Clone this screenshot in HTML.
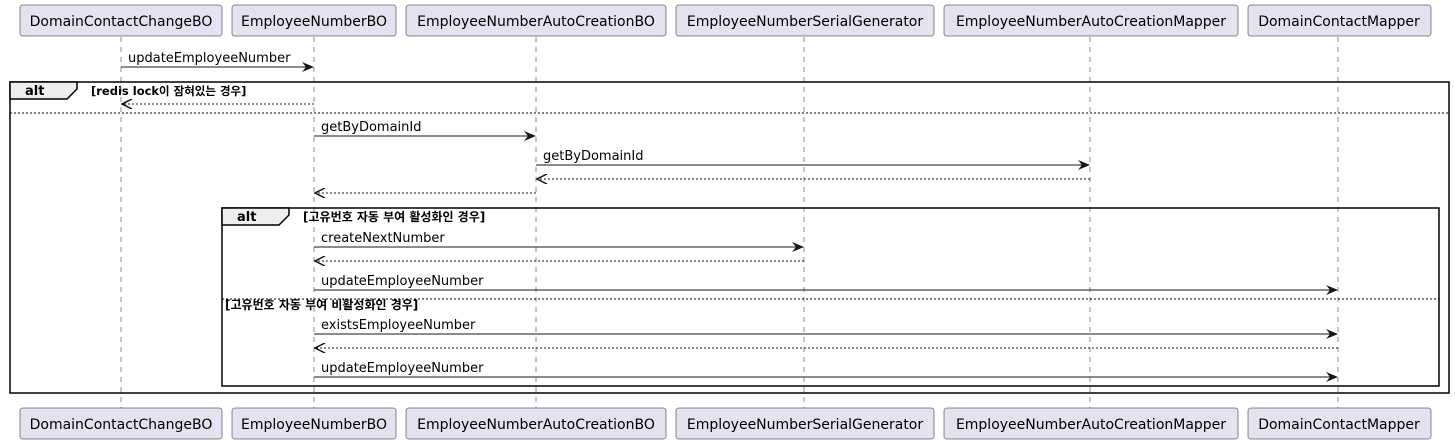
<!DOCTYPE html>
<html><head><meta charset="utf-8"><style>html,body{margin:0;padding:0;background:#fff}svg{display:block}</style></head><body>
<svg width="1455" height="443" xmlns="http://www.w3.org/2000/svg" font-family="'DejaVu Sans','Noto Sans CJK KR',sans-serif">
<defs>
<marker id="a" viewBox="0 0 12 10" refX="11" refY="5" markerWidth="12" markerHeight="10" markerUnits="userSpaceOnUse" orient="auto"><path d="M0,0 L12,5 L0,10 L4,5 Z" fill="#181818"/></marker>
<marker id="r" viewBox="0 0 12 10" refX="11" refY="5" markerWidth="12" markerHeight="10" markerUnits="userSpaceOnUse" orient="auto"><path d="M1,0 L11,5 L1,10" fill="none" stroke="#181818" stroke-width="1.5"/></marker>
</defs>
<g stroke="#181818" stroke-width="0.5" stroke-dasharray="5,5">
<line x1="121" y1="37" x2="121" y2="408"/><line x1="314" y1="37" x2="314" y2="408"/><line x1="536" y1="37" x2="536" y2="408"/><line x1="804" y1="37" x2="804" y2="408"/><line x1="1090" y1="37" x2="1090" y2="408"/><line x1="1338" y1="37" x2="1338" y2="408"/>
</g>
<g fill="#E2E2F0" stroke="#181818" stroke-width="0.5">
<rect x="20" y="5" width="202" height="31" rx="2.5"/><rect x="232" y="5" width="164" height="31" rx="2.5"/><rect x="406" y="5" width="260" height="31" rx="2.5"/><rect x="676" y="5" width="258" height="31" rx="2.5"/><rect x="944" y="5" width="294" height="31" rx="2.5"/><rect x="1248" y="5" width="183" height="31" rx="2.5"/>
<rect x="20" y="408" width="202" height="31" rx="2.5"/><rect x="232" y="408" width="164" height="31" rx="2.5"/><rect x="406" y="408" width="260" height="31" rx="2.5"/><rect x="676" y="408" width="258" height="31" rx="2.5"/><rect x="944" y="408" width="294" height="31" rx="2.5"/><rect x="1248" y="408" width="183" height="31" rx="2.5"/>
</g>
<g font-size="14" fill="#000" text-anchor="middle">
<text x="121" y="26">DomainContactChangeBO</text><text x="314" y="26">EmployeeNumberBO</text><text x="536" y="26">EmployeeNumberAutoCreationBO</text><text x="805" y="26">EmployeeNumberSerialGenerator</text><text x="1091" y="26">EmployeeNumberAutoCreationMapper</text><text x="1339" y="26">DomainContactMapper</text>
<text x="121" y="429">DomainContactChangeBO</text><text x="314" y="429">EmployeeNumberBO</text><text x="536" y="429">EmployeeNumberAutoCreationBO</text><text x="805" y="429">EmployeeNumberSerialGenerator</text><text x="1091" y="429">EmployeeNumberAutoCreationMapper</text><text x="1339" y="429">DomainContactMapper</text>
</g>
<rect x="10" y="82" width="1439" height="311" fill="none" stroke="#000" stroke-width="1.5"/>
<path d="M10,82 L77,82 L77,89 L67,99 L10,99 Z" fill="#EEEEEE" stroke="#000" stroke-width="1.5"/>
<text x="25" y="95" font-size="13" font-weight="bold">alt</text>
<text x="91" y="95" font-size="11.5" font-weight="bold">[redis lock이 잠혀있는 경우]</text>
<line x1="10" y1="113" x2="1449" y2="113" stroke="#000" stroke-width="1" stroke-dasharray="2,2"/>
<rect x="222" y="208" width="1217" height="178" fill="none" stroke="#000" stroke-width="1.5"/>
<path d="M222,208 L289,208 L289,215 L279,225 L222,225 Z" fill="#EEEEEE" stroke="#000" stroke-width="1.5"/>
<text x="237" y="221" font-size="13" font-weight="bold">alt</text>
<text x="303" y="221" font-size="12" font-weight="bold">[고유번호 자동 부여 활성화인 경우]</text>
<line x1="222" y1="299" x2="1439" y2="299" stroke="#000" stroke-width="1" stroke-dasharray="2,2"/>
<text x="225" y="309" font-size="12" font-weight="bold">[고유번호 자동 부여 비활성화인 경우]</text>
<g stroke="#181818" stroke-width="1" fill="none">
<line x1="121" y1="67" x2="313" y2="67" marker-end="url(#a)"/>
<line x1="314" y1="104" x2="122" y2="104" stroke-dasharray="2,2" marker-end="url(#r)"/>
<line x1="314" y1="136" x2="535" y2="136" marker-end="url(#a)"/>
<line x1="536" y1="165" x2="1089" y2="165" marker-end="url(#a)"/>
<line x1="1090" y1="179" x2="537" y2="179" stroke-dasharray="2,2" marker-end="url(#r)"/>
<line x1="536" y1="193" x2="315" y2="193" stroke-dasharray="2,2" marker-end="url(#r)"/>
<line x1="314" y1="247" x2="803" y2="247" marker-end="url(#a)"/>
<line x1="804" y1="261" x2="315" y2="261" stroke-dasharray="2,2" marker-end="url(#r)"/>
<line x1="314" y1="290" x2="1337" y2="290" marker-end="url(#a)"/>
<line x1="314" y1="334" x2="1337" y2="334" marker-end="url(#a)"/>
<line x1="1338" y1="348" x2="315" y2="348" stroke-dasharray="2,2" marker-end="url(#r)"/>
<line x1="314" y1="377" x2="1337" y2="377" marker-end="url(#a)"/>
</g>
<g font-size="13" fill="#000">
<text x="128" y="62">updateEmployeeNumber</text>
<text x="321" y="131">getByDomainId</text>
<text x="543" y="160">getByDomainId</text>
<text x="321" y="242">createNextNumber</text>
<text x="321" y="285">updateEmployeeNumber</text>
<text x="321" y="329">existsEmployeeNumber</text>
<text x="321" y="372">updateEmployeeNumber</text>
</g>
</svg>
</body></html>
